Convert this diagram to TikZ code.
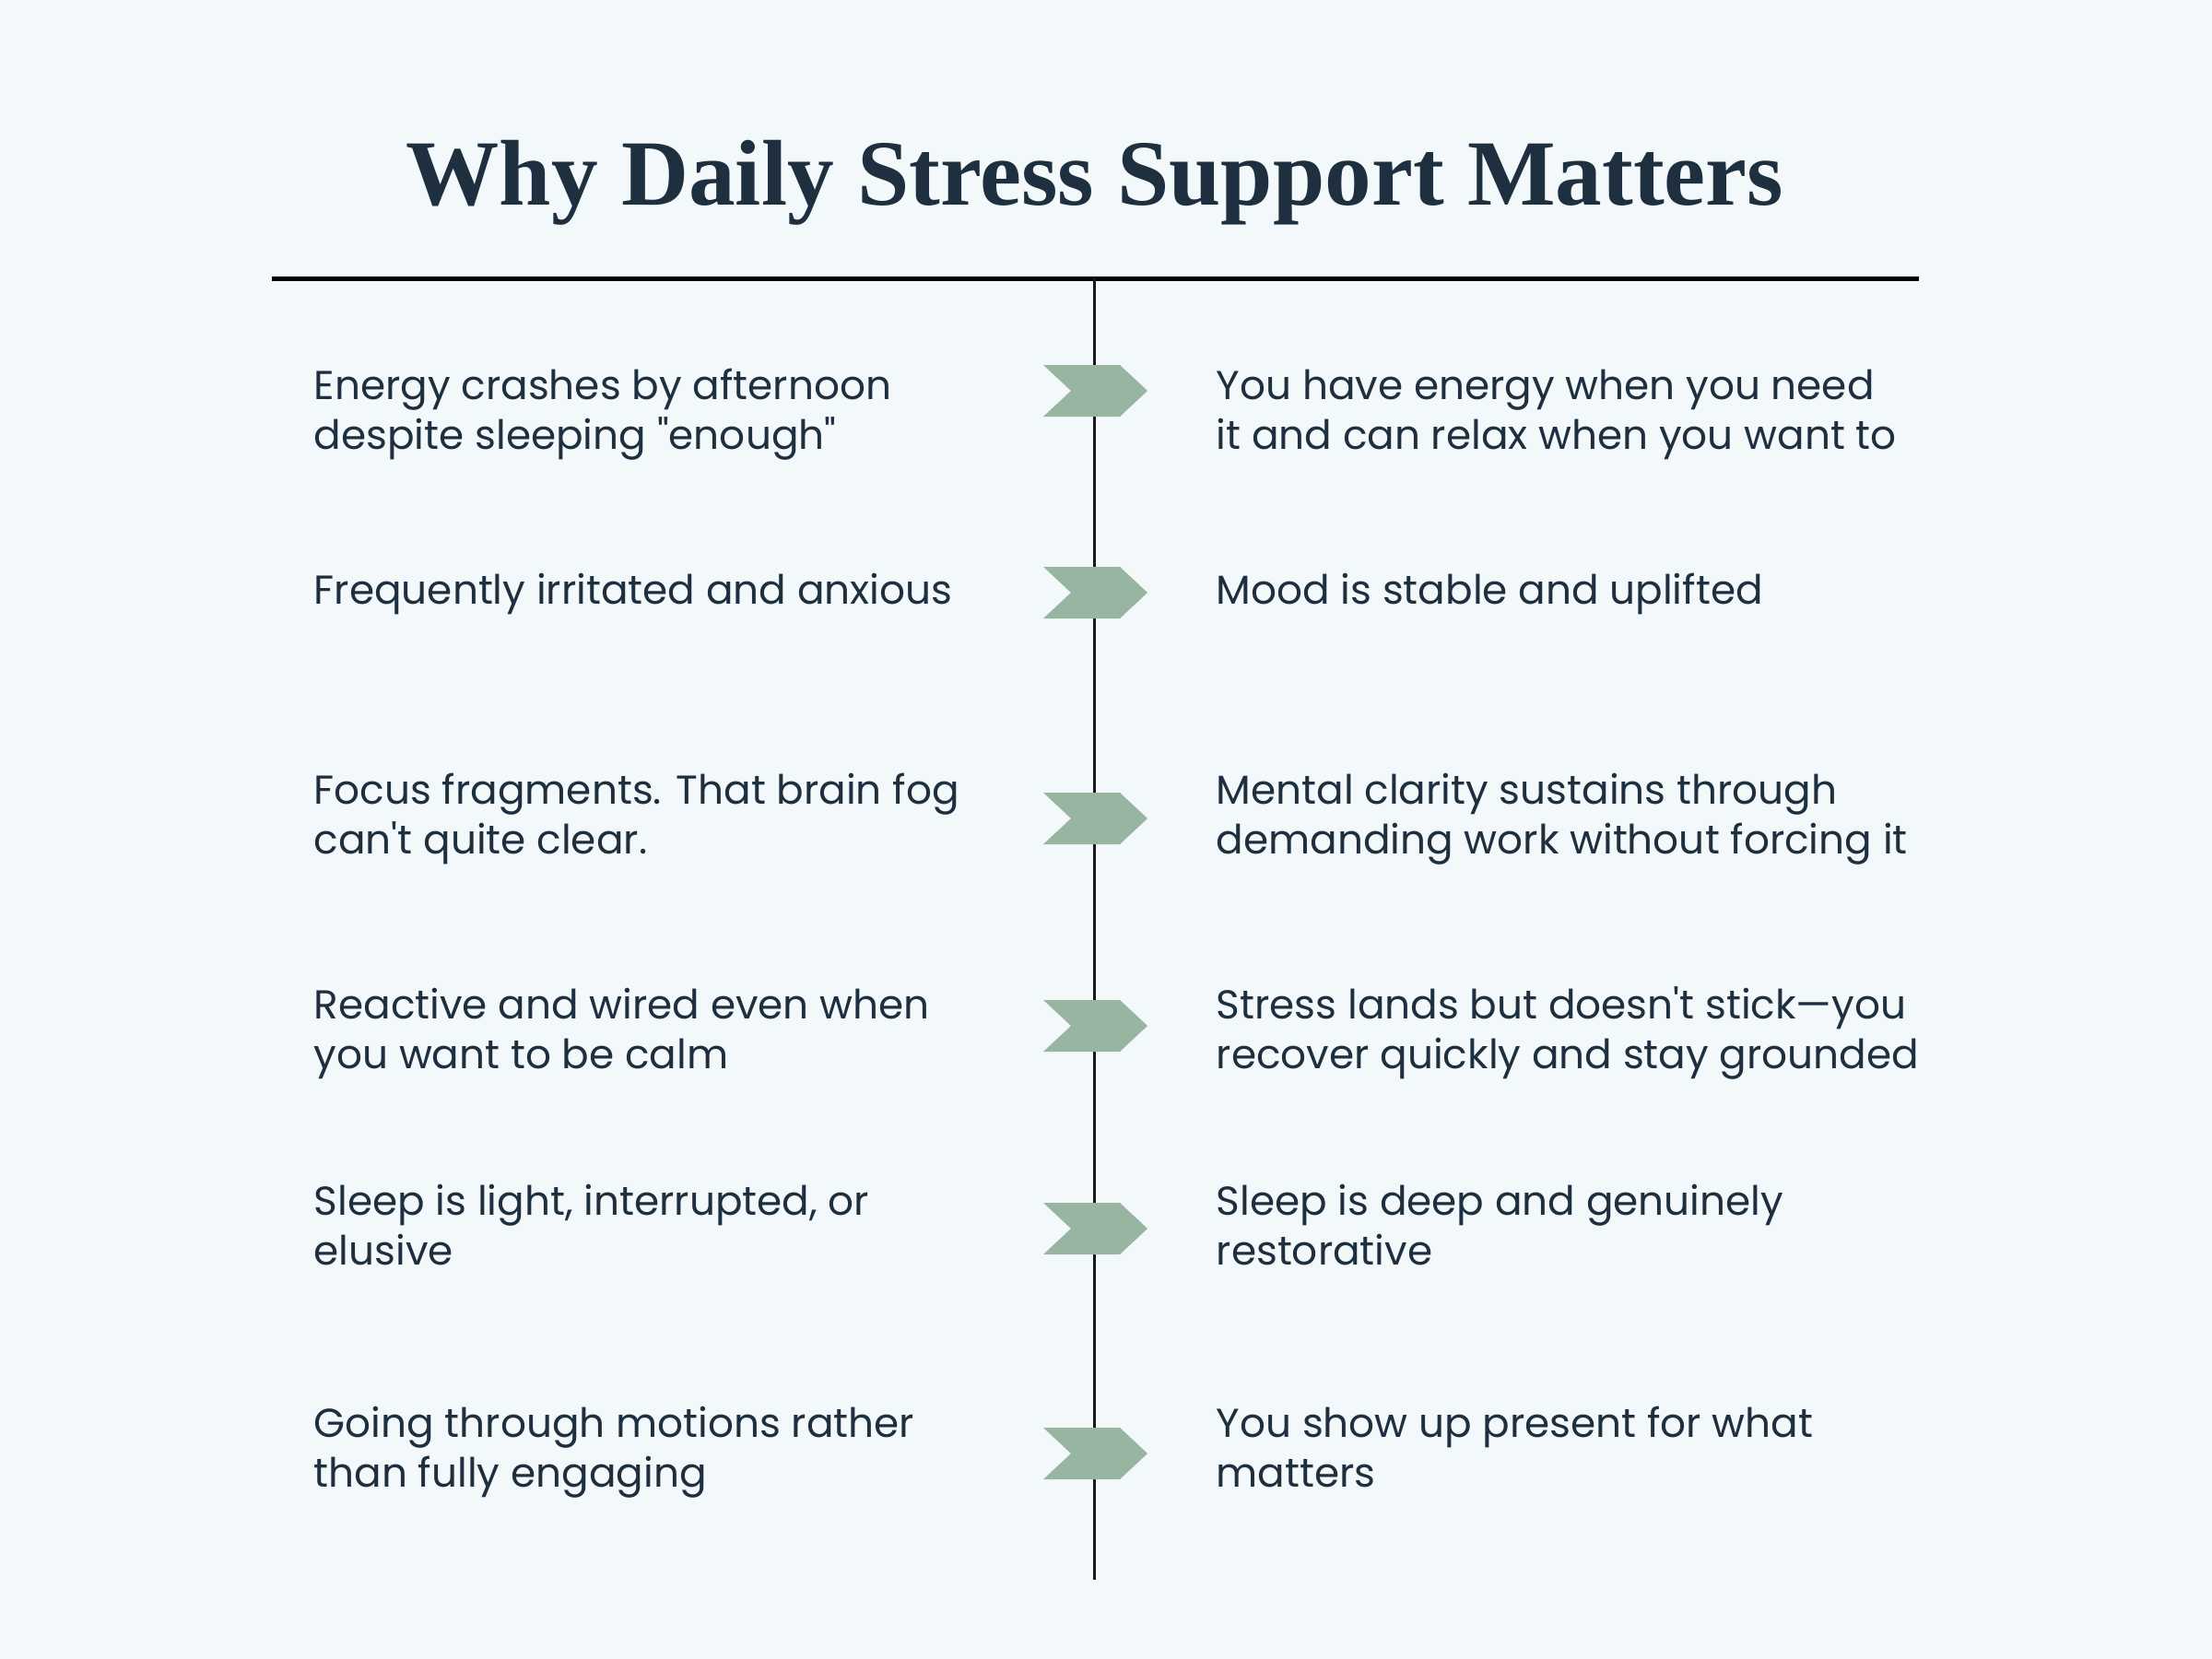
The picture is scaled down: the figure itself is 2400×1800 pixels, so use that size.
\documentclass[tikz,border=0pt]{standalone}
\usepackage{fontspec}
\setmainfont{Poppins}[Ligatures=TeXOff]
\newfontfamily\titlefont{Liberation Serif}
\definecolor{bg}{HTML}{F3F8FB}
\definecolor{ink}{HTML}{1E2F3F}
\definecolor{sage}{HTML}{97B5A0}
\begin{document}
\begin{tikzpicture}[x=0.01cm,y=-0.01cm,
  txt/.style={anchor=base west, align=left, inner sep=0pt, text=ink,
    font=\fontsize{12.45}{15.25}\selectfont},
  chevron/.style={fill=sage, draw=none}]
\fill[bg] (0,0) rectangle (2400,1800);
\useasboundingbox (0,0) rectangle (2400,1800);

\node[anchor=base, inner sep=0pt, text=ink, font=\titlefont\bfseries\fontsize{28.8}{32}\selectfont] (title) at (1188,222) {Why Daily Stress Support Matters};

\coordinate (hl) at (295,302.5);
\coordinate (hr) at (2082,302.5);
\draw[line width=1.42pt, black] (hl) -- (hr);
\coordinate (vt) at (1187,302);
\coordinate (vb) at (1187,1714);
\draw[line width=0.85pt, black!90] (vt) -- (vb);

\foreach \n/\y in {1/424,2/643,3/888,4/1113,5/1333,6/1577}{
  \coordinate (c\n) at (1187,\y);
  \fill[chevron] (c\n) ++(-55,-28) -- ++(83,0) -- ++(30,28) -- ++(-30,28) -- ++(-83,0) -- ++(30,-28) -- cycle;
}

% anchor = baseline of the last line
\node[txt] (l1) at (340,487) {Energy crashes by afternoon\\despite sleeping "enough"};
\node[txt] (r1) at (1319,487) {You have energy when you need\\it and can relax when you want to};
\node[txt] (l2) at (340,655) {Frequently irritated and anxious};
\node[txt] (r2) at (1319,655) {Mood is stable and uplifted};
\node[txt] (l3) at (340,926) {Focus fragments. That brain fog\\can't quite clear.};
\node[txt] (r3) at (1319,926) {Mental clarity sustains through\\demanding work without forcing it};
\node[txt] (l4) at (340,1159) {Reactive and wired even when\\you want to be calm};
\node[txt] (r4) at (1319,1159) {Stress lands but doesn't stick—you\\recover quickly and stay grounded};
\node[txt] (l5) at (340,1372) {Sleep is light, interrupted, or\\elusive};
\node[txt] (r5) at (1319,1372) {Sleep is deep and genuinely\\restorative};
\node[txt] (l6) at (340,1613) {Going through motions rather\\than fully engaging};
\node[txt] (r6) at (1319,1613) {You show up present for what\\matters};
\end{tikzpicture}
\end{document}
